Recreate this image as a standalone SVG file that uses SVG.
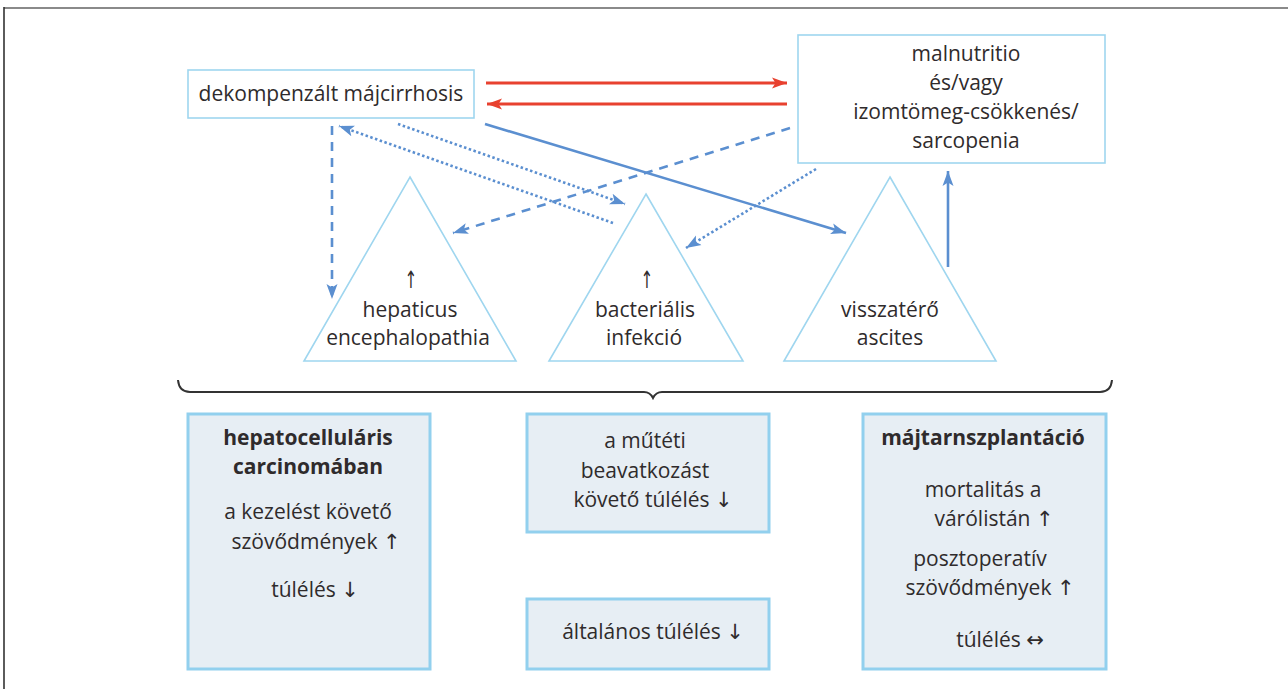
<svg xmlns="http://www.w3.org/2000/svg" width="1288" height="689" viewBox="0 0 1288 689">
<style>
text{font-family:"Open Sans","Noto Sans","DejaVu Sans",sans-serif;font-size:21px;fill:#2f2b2c;text-anchor:middle}
.b{font-weight:bold}
.ar{font-size:17px}
.top{fill:#fff;stroke:#9fd6ef;stroke-width:1.6}
.bot{fill:#e7eef4;stroke:#92d0ee;stroke-width:3}
.tri{fill:none;stroke:#9fd6ef;stroke-width:1.6}
.blue{fill:none;stroke:#5b8fd0;stroke-width:2.6}
.red{fill:none;stroke:#e8412f;stroke-width:3}
.dash{stroke-dasharray:9 7}
.dot{stroke-dasharray:2.5 2.5}
</style>
<defs>
<marker id="ab" markerUnits="userSpaceOnUse" markerWidth="17" markerHeight="13" refX="15" refY="6.5" orient="auto">
<path d="M0,1 L15,6.5 L0,12 L3.5,6.5 z" fill="#5b8fd0"/>
</marker>
<marker id="ar" markerUnits="userSpaceOnUse" markerWidth="16" markerHeight="12" refX="15" refY="6" orient="auto">
<path d="M0,0.5 L15,6 L0,11.5 L3.5,6 z" fill="#e8412f"/>
</marker>
</defs>
<rect x="0" y="0" width="1288" height="689" fill="#fff"/>
<line x1="4" y1="8" x2="1288" y2="8" stroke="#8a8a8a" stroke-width="2"/>
<line x1="4" y1="7" x2="4" y2="689" stroke="#333" stroke-width="1.6"/>

<g id="connectors">
<path class="red" d="M486,83 L787,83" marker-end="url(#ar)"/>
<path class="red" d="M787,104 L487,104" marker-end="url(#ar)"/>
<path class="blue dash" d="M332,126 L332,299" marker-end="url(#ab)"/>
<path class="blue dot" d="M613,223 L339,126" marker-end="url(#ab)"/>
<path class="blue dot" d="M398,124 L625,204" marker-end="url(#ab)"/>
<path class="blue" d="M485,124 L846,233" marker-end="url(#ab)"/>
<path class="blue dash" d="M790,128 L453,233" marker-end="url(#ab)"/>
<path class="blue dot" d="M816,169 L686,248" marker-end="url(#ab)"/>
<path class="blue" d="M948,267 L948,171" marker-end="url(#ab)"/>
</g>

<g id="dekompenzalt">
<rect class="top" x="188" y="70" width="286" height="48"/>
<text x="331" y="101">dekompenzált májcirrhosis</text>
</g>

<g id="malnutritio">
<rect class="top" x="798" y="35" width="307" height="128"/>
<text x="966" y="61">malnutritio</text>
<text x="966" y="90">és/vagy</text>
<text x="966" y="119">izomtömeg-csökkenés/</text>
<text x="966" y="148">sarcopenia</text>
</g>

<g id="hepaticus">
<path class="tri" d="M410,177 L516,361 L304,361 Z"/>
<text class="ar" transform="translate(411,288) scale(0.9,1.4)">↑</text>
<text x="410" y="317">hepaticus</text>
<text x="408" y="345">encephalopathia</text>
</g>

<g id="bakterialis">
<path class="tri" d="M646,194 L743,361 L549,361 Z"/>
<text class="ar" transform="translate(647,288) scale(0.9,1.4)">↑</text>
<text x="645" y="317">bacteriális</text>
<text x="644" y="345">infekció</text>
</g>

<g id="ascites">
<path class="tri" d="M890,177 L996,361 L784,361 Z"/>
<text x="890" y="317">visszatérő</text>
<text x="890" y="345">ascites</text>
</g>

<g id="brace">
<path d="M178,380 Q179,392 190,392 L644,392 Q650,392 653,398 Q656,392 662,392 L1100,392 Q1111,392 1112,380" fill="none" stroke="#333" stroke-width="2"/>
</g>

<g id="hcc">
<rect class="bot" x="188" y="414" width="242" height="255"/>
<text class="b" x="308" y="445">hepatocelluláris</text>
<text class="b" x="308" y="474">carcinomában</text>
<text x="308" y="519">a kezelést követő</text>
<text x="316" y="549">szövődmények ↑</text>
<text x="315" y="597">túlélés ↓</text>
</g>

<g id="mutet">
<rect class="bot" x="527" y="414" width="242" height="118"/>
<text x="645" y="448">a műtéti</text>
<text x="645" y="478">beavatkozást</text>
<text x="653" y="507">követő túlélés ↓</text>
</g>

<g id="altalanos">
<rect class="bot" x="527" y="599" width="242" height="70"/>
<text x="653" y="639">általános túlélés ↓</text>
</g>

<g id="majtransz">
<rect class="bot" x="863" y="414" width="243" height="255"/>
<text class="b" x="983" y="445">májtarnszplantáció</text>
<text x="983" y="497">mortalitás a</text>
<text x="994" y="526">várólistán  ↑</text>
<text x="980" y="566">posztoperatív</text>
<text x="990" y="595">szövődmények ↑</text>
<text x="1000" y="647">túlélés ↔</text>
</g>
</svg>
